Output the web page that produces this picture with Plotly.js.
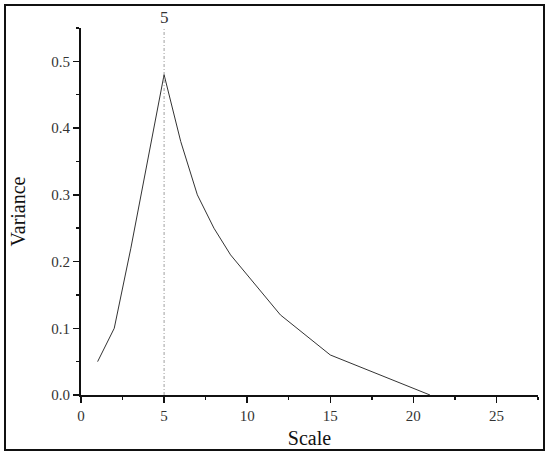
<!DOCTYPE html>
<html>
<head>
<meta charset="utf-8">
<script src="https://cdn.plot.ly/plotly-3.0.1.min.js"></script>
<style>
  body { margin: 0; background: #fff; }
  #chart { position: absolute; left: 0; top: 0; width: 550px; height: 458px; }
  #frame { position: absolute; left: 4px; top: 4px; width: 541px; height: 447px;
           box-sizing: border-box; border: 2px solid #111; pointer-events: none; }
</style>
</head>
<body>
<div id="chart"></div>
<div id="frame"></div>
<script>
// scale vs variance
const scales = [1, 2, 3, 4, 5, 6, 7, 8, 9, 12, 15, 21];
const variance = [0.05, 0.10, 0.22, 0.35, 0.48, 0.38, 0.30, 0.25, 0.21, 0.12, 0.06, 0.0];
const bestScale = 5;

const font = '"Liberation Serif", "DejaVu Serif", serif';

const curve = {
  type: 'scatter', mode: 'lines',
  x: scales, y: variance,
  line: { color: '#333', width: 1 },
  hoverinfo: 'x+y'
};

const layout = {
  width: 550, height: 458,
  margin: { l: 81, r: 12, t: 28, b: 63 },
  paper_bgcolor: '#fff', plot_bgcolor: '#fff',
  showlegend: false,
  font: { family: font, color: '#222', size: 15 },
  xaxis: {
    range: [0, 27.5], dtick: 5, tick0: 0,
    showgrid: false, zeroline: false,
    showline: true, linecolor: '#111', linewidth: 2,
    ticks: 'outside', ticklen: 6, tickwidth: 1.5, tickcolor: '#111',
    minor: { dtick: 2.5, ticks: 'outside', ticklen: 3, tickcolor: '#111', showgrid: false },
    tickfont: { family: font, size: 15, color: '#333' },
    title: { text: 'Scale', font: { family: font, size: 20, color: '#111' }, standoff: 8 }
  },
  yaxis: {
    range: [0, 0.55], dtick: 0.1, tick0: 0, tickformat: '.1f',
    showgrid: false, zeroline: false,
    showline: true, linecolor: '#111', linewidth: 2,
    ticks: 'outside', ticklen: 6, tickwidth: 1.5, tickcolor: '#111',
    minor: { dtick: 0.05, ticks: 'outside', ticklen: 3, tickcolor: '#111', showgrid: false },
    tickfont: { family: font, size: 15, color: '#333' },
    title: { text: 'Variance', font: { family: font, size: 20, color: '#111' }, standoff: 20 }
  },
  shapes: [{
    type: 'line', xref: 'x', yref: 'paper',
    x0: bestScale, x1: bestScale, y0: 0, y1: 1,
    line: { color: '#888', width: 0.8, dash: '3px,2px,1px,2px' }
  }],
  annotations: [{
    xref: 'x', yref: 'paper', x: bestScale, y: 1,
    yanchor: 'bottom', showarrow: false, yshift: -1,
    text: String(bestScale),
    font: { family: font, size: 17, color: '#333' }
  }]
};

Plotly.newPlot('chart', [curve], layout, { displayModeBar: false, staticPlot: true });
</script>
</body>
</html>
